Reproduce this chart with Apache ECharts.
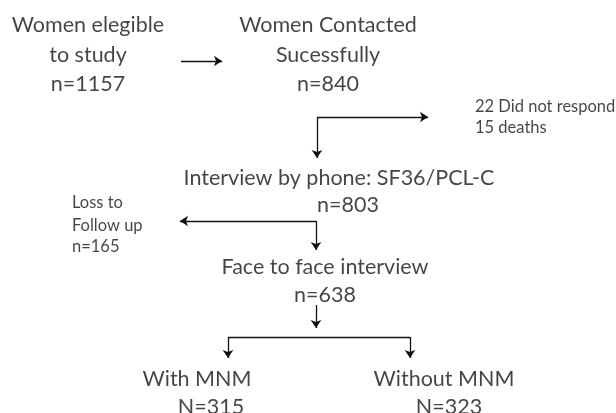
<!DOCTYPE html>
<html>
<head>
<meta charset="utf-8">
<script src="https://cdn.jsdelivr.net/npm/echarts@6/dist/echarts.min.js"></script>
<style>html,body{margin:0;padding:0;background:#fff;}#c{width:616px;height:413px;}</style>
</head>
<body>
<div id="c"></div>
<script>
// ---- data ----
const stageTitles = ['Women elegible\nto study', 'Women Contacted\nSucessfully', 'Interview by phone: SF36/PCL-C', 'Face to face interview', 'With MNM', 'Without MNM'];
const stagePrefix = ['n', 'n', 'n', 'n', 'N', 'N'];
const stageCounts = [1157, 840, 803, 638, 315, 323];
const exclusionNotes = ['22 Did not respond', '15 deaths'];
const lossLabels = ['Loss to', 'Follow up'];
const lossCount = 165;

// ---- layout (positions in pixel space of the hidden axes) ----
const titlePos = [[88, 40], [328, 40], [339, 178], [325, 267], [197, 379], [444, 379]];
const countPos = [[88, 84], [328, 84], [348, 205], [325, 295], [211, 407], [449, 407]];
const notePos = [[475, 107], [475, 128]];
const lossPos = [[72, 203], [72, 226], [72, 247]];
// plain connector segments (no arrowhead)
const plainSegs = [
  [[228, 337], [410, 337]]
];
// segments ending with an arrowhead
const arrowSegs = [
  [[181, 61], [222, 61]],
  [[317, 117], [317, 158]],
  [[317, 117], [428, 117]],
  [[316, 221], [180, 221]],
  [[316, 221], [316, 250]],
  [[316, 305], [316, 328]],
  [[228, 337], [228, 358]],
  [[410, 337], [410, 358]]
];

const FONT = 'Lato';
const TXT = '#151515';

const bigText = [];
stageTitles.forEach((t, i) => {
  bigText.push({ value: titlePos[i], name: t });
  bigText.push({ value: countPos[i], name: stagePrefix[i] + '=' + stageCounts[i] });
});
const smallText = [];
exclusionNotes.forEach((t, i) => smallText.push({ value: notePos[i], name: t }));
lossLabels.forEach((t, i) => smallText.push({ value: lossPos[i], name: t }));
smallText.push({ value: lossPos[2], name: 'n=' + lossCount });

const lineStyle = { color: '#111', width: 1.3, opacity: 1 };
const chart = echarts.init(document.getElementById('c'), null, { renderer: 'canvas' });
chart.setOption({
  animation: false,
  backgroundColor: '#fff',
  grid: { left: 0, right: 0, top: 0, bottom: 0 },
  xAxis: { type: 'value', min: 0, max: 616, show: false },
  yAxis: { type: 'value', min: 0, max: 413, inverse: true, show: false },
  series: [
    {
      type: 'lines',
      coordinateSystem: 'cartesian2d',
      symbol: ['none', 'none'],
      lineStyle: lineStyle,
      data: plainSegs.map(p => ({ coords: p })),
      silent: true
    },
    {
      type: 'lines',
      coordinateSystem: 'cartesian2d',
      symbol: ['none', 'arrow'],
      symbolSize: 8,
      lineStyle: lineStyle,
      data: arrowSegs.map(p => ({ coords: p })),
      silent: true
    },
    {
      type: 'scatter',
      symbolSize: 0,
      silent: true,
      data: bigText,
      label: {
        show: true,
        position: 'inside',
        formatter: p => p.name,
        fontFamily: FONT,
        fontSize: 21.5,
        lineHeight: 30,
        color: TXT,
        align: 'center',
        verticalAlign: 'middle'
      }
    },
    {
      type: 'scatter',
      symbolSize: 0,
      silent: true,
      data: smallText,
      label: {
        show: true,
        position: 'inside',
        formatter: p => p.name,
        fontFamily: FONT,
        fontSize: 16.5,
        color: TXT,
        align: 'left',
        verticalAlign: 'middle'
      }
    }
  ]
});
</script>
</body>
</html>
